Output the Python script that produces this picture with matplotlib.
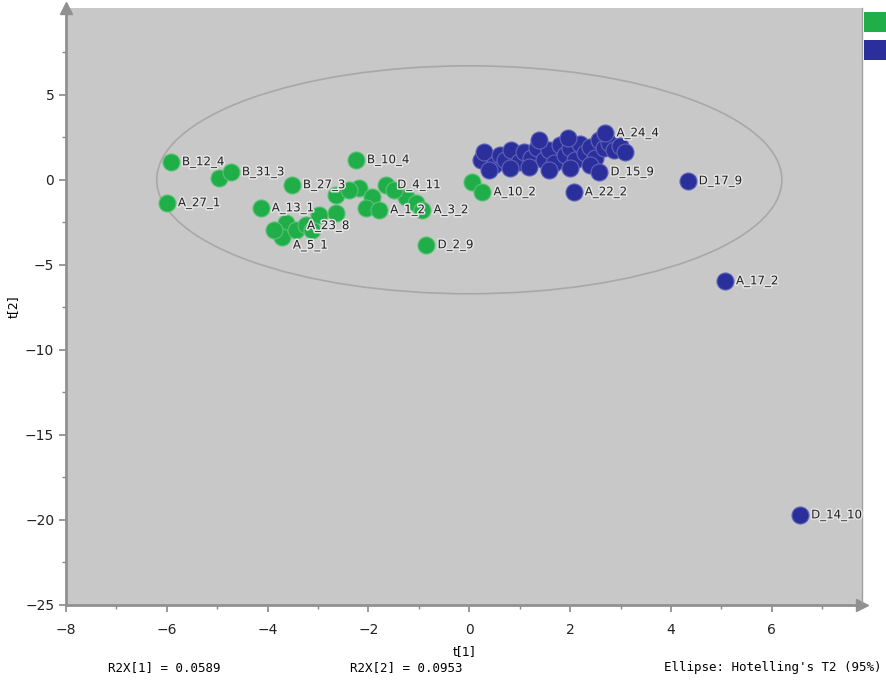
import numpy as np
import matplotlib
matplotlib.use("Agg")
import matplotlib.pyplot as plt
from matplotlib.patches import Ellipse, Rectangle
import matplotlib.patheffects as pe

# score plot t[1] vs t[2]
green_x = [-5.92, -6.00, -4.97, -4.73, -3.52, -4.14, -2.25, -2.64, -2.64, -2.19,
           -1.93, -1.65, -2.05, -1.79, -1.25, -1.05, -0.93, -3.64, -3.72, -3.44,
           -3.24, -3.12, -0.85, 0.06, 0.26, -2.39, -1.49, -3.88, -2.98]
green_y = [1.06, -1.35, 0.12, 0.47, -0.29, -1.65, 1.18, -0.88, -1.94, -0.47,
           -1.00, -0.29, -1.65, -1.76, -1.00, -1.35, -1.76, -2.53, -3.35, -2.94,
           -2.65, -2.94, -3.82, -0.12, -0.71, -0.59, -0.59, -2.94, -2.06]
green_lab = ["B_12_4", "A_27_1", "", "B_31_3", "B_27_3", "A_13_1", "B_10_4", "", "", "",
             "", "D_4_11", "", "A_1_2", "", "", "A_3_2", "", "A_5_1", "A_23_8",
             "", "", "D_2_9", "", "A_10_2", "", "", "", ""]

blue_x = [0.24, 0.30, 0.50, 0.60, 0.70, 0.83, 0.99, 1.09, 1.23, 1.35,
          1.49, 1.59, 1.69, 1.79, 1.89, 1.99, 2.09, 2.19, 2.29, 2.39,
          2.49, 2.58, 2.68, 2.78, 2.88, 2.98, 3.08, 0.40, 0.80, 1.19,
          1.59, 1.99, 2.39, 1.39, 1.95, 2.70, 2.58, 2.07, 4.33, 5.07, 6.56]
blue_y = [1.18, 1.65, 0.88, 1.47, 1.18, 1.76, 1.06, 1.65, 1.29, 1.88,
          1.18, 1.76, 1.00, 2.06, 1.47, 1.88, 1.18, 2.12, 1.59, 1.94,
          1.29, 2.35, 1.88, 2.18, 1.76, 2.00, 1.65, 0.59, 0.71, 0.76,
          0.59, 0.71, 0.88, 2.35, 2.47, 2.76, 0.47, -0.71, -0.06, -5.94, -19.7]
blue_lab = [""] * 35 + ["A_24_4", "D_15_9", "A_22_2", "D_17_9", "A_17_2", "D_14_10"]

fig = plt.figure(figsize=(8.86, 6.87), dpi=100)
ax = fig.add_axes([66 / 886, 1 - 605 / 687, (862 - 66) / 886, (605 - 8) / 687])
ax.set_facecolor("#c8c8c8")
ax.set_xlim(-8, 7.79)
ax.set_ylim(-25, 10.1)

ax.add_patch(Ellipse((0, 0), 12.4, 13.4, fill=False, ec="#a8a8a8", lw=1.2))

halo = [pe.withStroke(linewidth=2.2, foreground="#e4e4e4")]
ax.scatter(green_x, green_y, s=150, c="#1fae48", ec="#5cc277", lw=0.8, zorder=3)
ax.scatter(blue_x, blue_y, s=150, c="#2b2f9c", ec="#5f63b8", lw=0.8, zorder=3)
for x, y, t in zip(green_x + blue_x, green_y + blue_y, green_lab + blue_lab):
    if t:
        dy = -6 if t == "A_5_1" else (3 if t == "A_23_8" else 0)
        ax.annotate(t, (x, y), xytext=(8, dy), textcoords="offset points", va="center",
                    fontsize=8.5, family="DejaVu Sans", color="#222222", zorder=4,
                    path_effects=halo)

ax.set_xticks(np.arange(-8, 7, 2))
ax.set_xticks(np.arange(-8, 8, 1), minor=True)
ax.set_yticks(np.arange(-25, 6, 5))
ax.set_yticks(np.arange(-25, 10, 2.5), minor=True)
ax.tick_params(which="both", colors="#888888", labelcolor="#222222", labelsize=10, direction="out")
ax.tick_params(which="major", length=5, width=1.2)
ax.tick_params(which="minor", length=3, width=1)
ax.tick_params(axis="x", pad=8)
for s in ["left", "bottom"]:
    ax.spines[s].set_color("#909090")
    ax.spines[s].set_linewidth(2)
ax.spines["top"].set_visible(False)
ax.spines["right"].set_color("#a0a0a0")
ax.spines["right"].set_linewidth(1)
ax.plot(1, 0, ">", color="#909090", ms=8, transform=ax.transAxes, clip_on=False)
ax.plot(0, 1, "^", color="#909090", ms=8, transform=ax.transAxes, clip_on=False)

ax.set_xlabel("t[1]", fontsize=9, labelpad=6)
ax.set_ylabel("t[2]", fontsize=9, labelpad=4)

fig.text(108 / 886, 1 - 668 / 687, "R2X[1] = 0.0589", family="DejaVu Sans Mono", fontsize=9, va="center")
fig.text(350 / 886, 1 - 668 / 687, "R2X[2] = 0.0953", family="DejaVu Sans Mono", fontsize=9, va="center")
fig.text(882 / 886, 1 - 668 / 687, "Ellipse: Hotelling's T2 (95%)", family="DejaVu Sans Mono",
         fontsize=9, va="center", ha="right")

fig.patches.append(Rectangle((864 / 886, 1 - 32 / 687), 30 / 886, 20 / 687, fc="#1fae48",
                             transform=fig.transFigure, figure=fig))
fig.patches.append(Rectangle((864 / 886, 1 - 60 / 687), 30 / 886, 20 / 687, fc="#2b2f9c",
                             transform=fig.transFigure, figure=fig))

fig.savefig("out.png", dpi=100)
